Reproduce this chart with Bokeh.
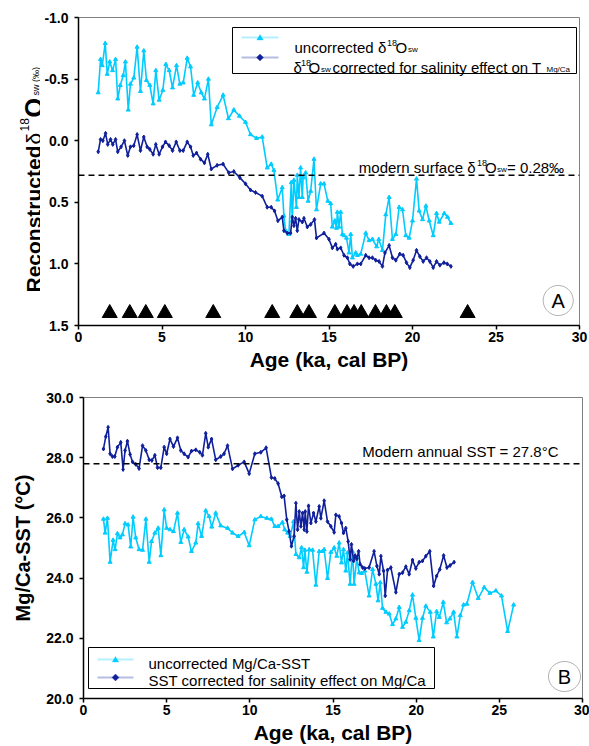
import math
from bokeh.plotting import figure
from bokeh.layouts import column, row
from bokeh.models import (Range1d, FixedTicker, PrintfTickFormatter, Label, Span,
                          BoxAnnotation, PolyAnnotation)
from bokeh.embed import file_html
from bokeh.resources import INLINE

# ---------------- data ----------------
# Panel A: reconstructed d18O seawater (permil)
age_a_unc = [1.18, 1.32, 1.42, 1.6, 1.72, 1.87, 2.04, 2.22, 2.35, 2.5, 2.68, 2.81, 2.98, 3.11, 3.31, 3.51,
             3.71, 3.91, 4.07, 4.27, 4.47, 4.63, 4.83, 5.05, 5.23, 5.43, 5.63, 5.87, 6.07, 6.27, 6.51, 6.71,
             6.9, 7.14, 7.35, 7.54, 7.78, 7.95, 8.3, 8.66, 8.98, 9.3, 9.64, 10.0, 10.3, 10.66, 11.0, 11.3,
             11.54, 11.7, 11.93, 12.2, 12.3, 12.4, 12.6, 12.74, 12.8, 12.9, 13.05, 13.1, 13.2, 13.3, 13.4,
             13.45, 13.6, 13.75, 13.9, 14.1, 14.25, 14.5, 14.7, 14.93, 15.1, 15.2, 15.35, 15.45, 15.5, 15.6,
             15.7, 15.8, 15.9, 16.05, 16.2, 16.3, 16.4, 16.6, 16.7, 16.9, 17.2, 17.4, 17.6, 17.85, 17.98,
             18.2, 18.4, 18.6, 18.8, 19.0, 19.2, 19.4, 19.6, 19.8, 20.0, 20.24, 20.4, 20.6, 20.8, 21.0,
             21.24, 21.44, 21.6, 21.9, 22.1, 22.3]
d18o_unc = [-0.39, -0.66, -0.61, -0.79, -0.54, -0.64, -0.57, -0.66, -0.34, -0.45, -0.53, -0.64, -0.25, -0.46,
            -0.51, -0.76, -0.40, -0.73, -0.49, -0.45, -0.30, -0.57, -0.33, -0.41, -0.62, -0.57, -0.43, -0.61,
            -0.46, -0.47, -0.67, -0.60, -0.37, -0.47, -0.39, -0.34, -0.50, -0.13, -0.27, -0.37, -0.18, -0.25,
            -0.20, -0.15, -0.05, -0.02, -0.03, 0.22, 0.19, 0.24, 0.48, 0.38, 0.61, 0.73, 0.76, 0.34, 0.65,
            0.32, 0.54, 0.28, 0.46, 0.22, 0.46, 0.30, 0.26, 0.49, 0.41, 0.15, 0.56, 0.35, 0.35, 0.49, 0.51,
            0.70, 0.65, 0.71, 0.58, 0.70, 0.58, 0.76, 0.77, 0.79, 0.91, 0.76, 0.95, 0.91, 0.93, 0.92, 0.75,
            0.81, 0.80, 0.86, 0.80, 0.89, 0.60, 0.46, 0.80, 0.76, 0.54, 0.56, 0.77, 0.79, 0.65, 0.31, 0.57,
            0.64, 0.53, 0.65, 0.77, 0.59, 0.66, 0.59, 0.62, 0.67]
age_a_cor = [1.18, 1.32, 1.46, 1.62, 1.75, 1.92, 2.05, 2.22, 2.35, 2.55, 2.75, 2.95, 3.11, 3.31, 3.51, 3.71,
             3.91, 4.11, 4.27, 4.47, 4.63, 4.83, 5.03, 5.21, 5.43, 5.63, 5.85, 6.07, 6.27, 6.51, 6.71, 6.87,
             7.07, 7.31, 7.54, 7.74, 7.95, 8.3, 8.66, 9.0, 9.3, 9.66, 10.0, 10.3, 10.6, 11.0, 11.3, 11.54,
             11.74, 11.94, 12.2, 12.3, 12.5, 12.7, 12.8, 12.9, 13.0, 13.1, 13.2, 13.4, 13.5, 13.7, 13.9,
             14.13, 14.25, 14.7, 15.0, 15.2, 15.4, 15.5, 15.7, 15.9, 16.1, 16.25, 16.45, 16.7, 16.9, 17.2,
             17.4, 17.6, 17.8, 18.0, 18.2, 18.35, 18.6, 18.8, 19.0, 19.24, 19.44, 19.64, 19.84, 20.04, 20.24,
             20.44, 20.64, 20.84, 21.04, 21.24, 21.44, 21.64, 21.88, 22.08, 22.3]
d18o_cor = [0.09, -0.01, 0.0, -0.06, 0.03, -0.01, 0.03, -0.01, 0.09, 0.05, 0.0, 0.12, 0.05, 0.04, -0.05, 0.08,
            -0.03, 0.05, 0.07, 0.11, 0.03, 0.11, 0.05, 0.01, 0.04, 0.08, 0.01, 0.08, 0.08, 0.01, 0.05, 0.12,
            0.10, 0.15, 0.18, 0.11, 0.23, 0.20, 0.19, 0.26, 0.25, 0.30, 0.35, 0.40, 0.42, 0.45, 0.54, 0.54,
            0.57, 0.65, 0.62, 0.73, 0.75, 0.75, 0.62, 0.69, 0.63, 0.73, 0.64, 0.66, 0.63, 0.70, 0.68, 0.64,
            0.79, 0.75, 0.80, 0.87, 0.84, 0.88, 0.87, 0.93, 0.95, 1.00, 1.02, 1.00, 1.00, 0.93, 0.95, 0.95,
            0.97, 0.98, 1.02, 0.91, 0.85, 0.95, 0.97, 0.92, 0.93, 0.99, 1.03, 0.97, 0.89, 0.94, 0.98, 0.95,
            0.98, 1.03, 0.98, 1.01, 0.99, 1.00, 1.02]
age_dates = [1.87, 3.07, 4.03, 5.17, 8.07, 11.6, 13.1, 13.8, 15.35, 16.08, 16.5, 16.93, 17.78, 18.44,
             18.94, 23.3]
date_marker_level = 1.4
modern_d18o = 0.28

# Panel B: Mg/Ca-SST (degC)
age_b_unc = [1.2, 1.3, 1.44, 1.6, 1.78, 1.9, 2.04, 2.2, 2.34, 2.5, 2.68, 2.84, 2.98, 3.14, 3.34, 3.55, 3.75,
             3.95, 4.09, 4.29, 4.49, 4.65, 4.85, 5.0, 5.2, 5.41, 5.65, 5.85, 6.05, 6.29, 6.49, 6.75, 6.89,
             7.1, 7.35, 7.55, 7.71, 7.95, 8.25, 8.66, 8.96, 9.3, 9.66, 9.96, 10.3, 10.66, 11.02, 11.3,
             11.5, 11.7, 11.96, 12.1, 12.27, 12.43, 12.63, 12.77, 12.97, 13.11, 13.23, 13.31, 13.43, 13.57,
             13.77, 13.97, 14.17, 14.37, 14.47, 14.67, 14.87, 15.07, 15.23, 15.37, 15.51, 15.63, 15.77,
             15.87, 16.03, 16.17, 16.27, 16.43, 16.57, 16.72, 16.91, 17.17, 17.38, 17.58, 17.71, 17.84,
             17.98, 18.18, 18.38, 18.58, 18.78, 18.98, 19.18, 19.38, 19.58, 19.78, 19.98, 20.18, 20.38,
             20.58, 20.85, 21.03, 21.23, 21.39, 21.63, 21.83, 22.03, 22.25, 22.45, 22.65, 22.85, 23.05,
             23.39, 23.73, 24.09, 24.43, 24.79, 25.13, 25.5, 25.86]
sst_unc = [25.96, 25.50, 25.99, 24.53, 25.26, 24.95, 25.48, 25.34, 25.44, 25.81, 25.77, 25.04, 26.03, 25.34,
           24.95, 24.93, 25.96, 24.53, 25.22, 25.50, 25.66, 24.75, 26.27, 25.66, 25.61, 25.55, 26.16, 25.19,
           25.61, 25.37, 24.89, 25.17, 25.81, 25.39, 26.24, 26.05, 25.70, 26.16, 25.74, 25.66, 25.50, 25.39,
           25.52, 25.08, 25.94, 26.05, 25.99, 25.96, 25.72, 25.72, 25.85, 25.61, 25.50, 25.39, 25.88, 24.79,
           24.68, 25.01, 24.35, 24.93, 24.20, 24.95, 24.93, 23.77, 24.89, 24.89, 24.95, 23.99, 24.86, 25.01,
           24.73, 25.17, 24.51, 24.95, 24.24, 24.84, 23.80, 24.89, 23.80, 24.68, 24.18, 24.16, 24.24, 23.41,
           24.29, 23.80, 23.25, 23.85, 23.00, 22.87, 22.81, 22.46, 22.65, 23.03, 22.37, 22.54, 22.92, 23.44,
           22.67, 21.93, 22.67, 23.07, 22.87, 22.05, 22.89, 22.70, 23.20, 22.52, 22.65, 22.87, 22.05, 22.76,
           23.11, 23.14, 23.86, 23.33, 23.69, 23.50, 23.58, 23.41, 22.23, 23.11]
age_b_cor = [1.2, 1.34, 1.48, 1.6, 1.74, 1.88, 2.04, 2.24, 2.38, 2.5, 2.64, 2.8, 2.95, 3.14, 3.34, 3.55, 3.75,
             3.95, 4.11, 4.29, 4.45, 4.65, 4.85, 5.0, 5.2, 5.41, 5.65, 5.85, 6.05, 6.29, 6.49, 6.75, 6.99,
             7.15, 7.35, 7.5, 7.7, 7.95, 8.25, 8.45, 8.66, 8.96, 9.3, 9.66, 9.96, 10.3, 10.66, 10.98, 11.3,
             11.5, 11.7, 11.92, 12.06, 12.22, 12.36, 12.5, 12.66, 12.77, 12.87, 12.97, 13.07, 13.17, 13.27,
             13.33, 13.43, 13.53, 13.67, 13.83, 13.97, 14.17, 14.27, 14.47, 14.67, 14.87, 15.07, 15.17,
             15.37, 15.51, 15.63, 15.77, 15.91, 16.03, 16.11, 16.24, 16.33, 16.43, 16.54, 16.63, 16.78,
             16.91, 17.17, 17.47, 17.64, 17.78, 17.88, 18.04, 18.14, 18.28, 18.48, 18.78, 18.98, 19.18,
             19.38, 19.58, 19.78, 19.98, 20.18, 20.38, 20.58, 20.82, 21.05, 21.23, 21.42, 21.65, 21.85,
             22.04, 22.28]
sst_cor = [28.29, 28.70, 29.01, 28.13, 28.04, 28.04, 28.35, 28.51, 27.61, 28.24, 28.55, 28.11, 27.86, 27.78,
           27.64, 28.40, 28.24, 27.93, 27.91, 28.08, 27.67, 27.67, 28.35, 28.13, 28.62, 28.37, 28.66, 28.24,
           28.13, 28.02, 28.22, 28.26, 28.18, 28.08, 28.81, 28.35, 28.62, 27.93, 28.04, 28.13, 28.40, 27.63,
           27.75, 27.86, 27.47, 28.13, 28.18, 28.33, 27.34, 27.31, 27.14, 26.70, 26.73, 25.94, 25.55, 25.06,
           25.39, 26.49, 25.61, 26.21, 25.72, 26.16, 25.61, 26.21, 25.55, 26.40, 25.83, 26.16, 25.88, 26.38,
           25.99, 26.57, 25.88, 25.72, 25.52, 26.10, 26.05, 25.83, 25.50, 25.66, 25.22, 24.62, 25.12, 24.57,
           24.75, 24.64, 24.89, 24.46, 24.35, 24.32, 24.35, 24.89, 24.40, 24.13, 24.73, 24.24, 23.41, 24.27,
           24.35, 23.53, 24.13, 24.18, 24.38, 24.13, 24.60, 24.32, 24.53, 24.57, 24.73, 24.89, 23.74, 24.07,
           24.29, 24.75, 24.35, 24.42, 24.53]
modern_sst = 27.8

x_ticks = [0, 5, 10, 15, 20, 25, 30]
ya_ticks = [-1.0, -0.5, 0.0, 0.5, 1.0, 1.5]
yb_ticks = [20, 22, 24, 26, 28, 30]

# ---------------- style ----------------
FONT = "Liberation Sans"
LIGHT = "#00CCFF"
DARK = "#10209A"
W = 589
HA, HB = 385, 361
TW = 40  # width of the strip holding the rotated title of panel A

FA = dict(oy=0, left=78, bottom=325)
FT = dict(oy=0, left=0, bottom=325)   # the strip's frame is aligned with panel A's frame
FB = dict(oy=HA, left=83, bottom=12 + 304)


def sx(f, cx):
    return cx - f["left"]


def sy(f, cy):
    return f["bottom"] - (cy - f["oy"])


def txt(p, f, cx, cy, s, size, style="normal", angle=0.0, align="left", baseline="alphabetic"):
    p.add_layout(Label(x=sx(f, cx), y=sy(f, cy), x_units="screen", y_units="screen", text=s,
                       text_font=FONT, text_font_size=f"{size}px", text_font_style=style,
                       angle=angle, angle_units="rad", text_align=align, text_baseline=baseline,
                       text_color="black"))


def poly(p, f, pts, fill=None, line="black", lw=1.0):
    p.add_layout(PolyAnnotation(xs=[sx(f, x) for x, y in pts], ys=[sy(f, y) for x, y in pts],
                                xs_units="screen", ys_units="screen",
                                fill_color=fill if fill else "white", fill_alpha=1.0 if fill else 0.0,
                                line_color=line, line_width=lw))


def box(p, f, l, t, r, b):
    p.add_layout(BoxAnnotation(left=sx(f, l), right=sx(f, r), top=sy(f, t), bottom=sy(f, b),
                               left_units="screen", right_units="screen", top_units="screen",
                               bottom_units="screen", fill_color="white", fill_alpha=1.0,
                               line_color="black", line_width=1, line_alpha=1.0))


def tri(cx, cy, s):
    return [(cx - s, cy + s * 0.8), (cx + s, cy + s * 0.8), (cx, cy - s * 0.9)]


def dia(cx, cy, s):
    return [(cx - s, cy), (cx, cy - s), (cx + s, cy), (cx, cy + s)]


def ring(cx, cy, rx, ry):
    return [(cx + rx * math.cos(2 * math.pi * k / 60), cy + ry * math.sin(2 * math.pi * k / 60))
            for k in range(60)]


def style_axes(p):
    for ax in p.axis:
        ax.axis_line_color = "black"
        ax.axis_line_width = 1.5
        ax.major_tick_line_color = "black"
        ax.major_tick_line_width = 1.5
        ax.major_tick_in = 0
        ax.major_tick_out = 4
        ax.minor_tick_line_color = None
        ax.major_label_text_font = FONT
        ax.major_label_text_font_style = "bold"
        ax.major_label_text_font_size = "14px"
        ax.major_label_text_color = "black"
        ax.axis_label_text_font = FONT
        ax.axis_label_text_font_style = "bold"
        ax.axis_label_text_color = "black"
    p.xaxis.ticker = FixedTicker(ticks=x_ticks)
    p.xaxis.formatter = PrintfTickFormatter(format="%d")
    p.xaxis.major_label_standoff = 2
    p.xaxis.axis_label = "Age (ka, cal BP)"
    p.xaxis.axis_label_text_font_size = "21px"
    p.xaxis.axis_label_standoff = 3
    p.yaxis.formatter = PrintfTickFormatter(format="%.1f")
    p.yaxis.major_label_standoff = 6
    p.xgrid.visible = False
    p.ygrid.visible = False
    p.outline_line_color = "#808080"
    p.outline_line_width = 1
    p.background_fill_color = "white"
    p.border_fill_color = "white"


# ---------------- title strip for panel A ----------------
pT = figure(width=TW, height=HA, output_backend="svg", toolbar_location=None,
            x_range=Range1d(0, 1), y_range=Range1d(0, 1), x_axis_type=None, y_axis_type=None,
            min_border=0, min_border_left=0, min_border_right=0, min_border_top=0, min_border_bottom=0)
pT.xgrid.visible = False
pT.ygrid.visible = False
pT.outline_line_color = None
pT.background_fill_color = "white"
pT.border_fill_color = "white"
R = math.pi / 2
txt(pT, FT, 33, 292, "Reconstructed ", 21, style="bold", angle=R)
txt(pT, FT, 33, 144, "δ", 21, angle=R)
txt(pT, FT, 24, 131, "18", 12, angle=R)
txt(pT, FT, 33, 117, "O", 25, style="bold", angle=R)
txt(pT, FT, 35, 95, "sw (‰)", 9, angle=R)

# ---------------- panel A ----------------
pA = figure(width=W - TW, height=HA, output_backend="svg", toolbar_location=None,
            x_range=Range1d(0, 30), y_range=Range1d(1.5, -1.0),
            min_border_left=FA["left"] - TW, min_border_right=W - 579, min_border_top=17,
            min_border_bottom=HA - FA["bottom"])
style_axes(pA)
pA.yaxis.ticker = FixedTicker(ticks=ya_ticks)

pA.add_layout(Span(location=modern_d18o, dimension="width", line_color="black",
                   line_dash="6 4", line_width=1.5))
pA.line(age_a_unc, d18o_unc, line_color=LIGHT, line_width=1.6)
pA.scatter(age_a_unc, d18o_unc, marker="triangle", size=4, fill_color=LIGHT, line_color=LIGHT)
pA.line(age_a_cor, d18o_cor, line_color=DARK, line_width=1.6)
pA.scatter(age_a_cor, d18o_cor, marker="diamond", size=4, fill_color=DARK, line_color=DARK)
pA.scatter(age_dates, [date_marker_level] * len(age_dates), marker="triangle", size=15,
           fill_color="black", line_color="black")

# legend A
box(pA, FA, 232, 27, 576, 73)
poly(pA, FA, [(241, 37), (278, 37)], line=LIGHT, lw=2)
poly(pA, FA, tri(259.5, 37, 3.2), fill=LIGHT, line=LIGHT)
poly(pA, FA, [(241, 57), (278, 57)], line=DARK, lw=2)
poly(pA, FA, dia(259.5, 57, 3.5), fill=DARK, line=DARK)
txt(pA, FA, 294, 46.5, "uncorrected δ", 15)
txt(pA, FA, 386.5, 42.5, "18", 9)
txt(pA, FA, 395, 46.5, "O", 15)
txt(pA, FA, 407.5, 49, "sw", 8)
txt(pA, FA, 293, 66.5, "δ", 15)
txt(pA, FA, 300.5, 62.5, "18", 9)
txt(pA, FA, 308, 66.5, "O", 15)
txt(pA, FA, 320.5, 69, "sw", 8)
txt(pA, FA, 332, 66.5, " corrected for salinity effect on T", 15)
txt(pA, FA, 546, 69, "Mg/Ca", 8)

# modern line text A
txt(pA, FA, 358.3, 166.5, "modern surface δ", 15)
txt(pA, FA, 476.5, 162.5, "18", 9)
txt(pA, FA, 484.5, 166.5, "O", 15)
txt(pA, FA, 496.5, 169, "sw", 8)
txt(pA, FA, 506.5, 166.5, " = 0.28‰", 15)

# panel letter A
poly(pA, FA, ring(557.7, 300, 15, 15), line="black", lw=1)
txt(pA, FA, 557.7, 300, "A", 20, align="center", baseline="middle")

# ---------------- panel B ----------------
pB = figure(width=W, height=HB, output_backend="svg", toolbar_location=None,
            x_range=Range1d(0, 30), y_range=Range1d(20, 30),
            min_border_left=FB["left"], min_border_right=W - 582, min_border_top=12,
            min_border_bottom=HB - FB["bottom"])
style_axes(pB)
pB.yaxis.ticker = FixedTicker(ticks=yb_ticks)
pB.yaxis.axis_label = "Mg/Ca-SST (°C)"
pB.yaxis.axis_label_text_font_size = "20px"
pB.yaxis.axis_label_standoff = 9

pB.add_layout(Span(location=modern_sst, dimension="width", line_color="black",
                   line_dash="6 4", line_width=1.5))
pB.line(age_b_unc, sst_unc, line_color=LIGHT, line_width=1.6)
pB.scatter(age_b_unc, sst_unc, marker="triangle", size=4, fill_color=LIGHT, line_color=LIGHT)
pB.line(age_b_cor, sst_cor, line_color=DARK, line_width=1.6)
pB.scatter(age_b_cor, sst_cor, marker="diamond", size=4, fill_color=DARK, line_color=DARK)

txt(pB, FB, 558.3, 454, "Modern annual SST = 27.8°C", 15, align="right")

# legend B
box(pB, FB, 88, 650, 434, 691)
poly(pB, FB, [(97, 662), (133, 662)], line=LIGHT, lw=2)
poly(pB, FB, tri(115, 662, 3.2), fill=LIGHT, line=LIGHT)
poly(pB, FB, [(97, 680), (133, 680)], line=DARK, lw=2)
poly(pB, FB, dia(115, 680, 3.5), fill=DARK, line=DARK)
txt(pB, FB, 148, 666, "uncorrected Mg/Ca-SST", 15)
txt(pB, FB, 148, 683, "SST corrected for salinity effect on Mg/Ca", 15)

# panel letter B
poly(pB, FB, ring(564, 679, 16, 15), line="black", lw=1)
txt(pB, FB, 564, 679, "B", 20, align="center", baseline="middle")

layout = column(row(pT, pA, spacing=0), pB, spacing=0)
open("out.html", "w").write(file_html(layout, INLINE))
